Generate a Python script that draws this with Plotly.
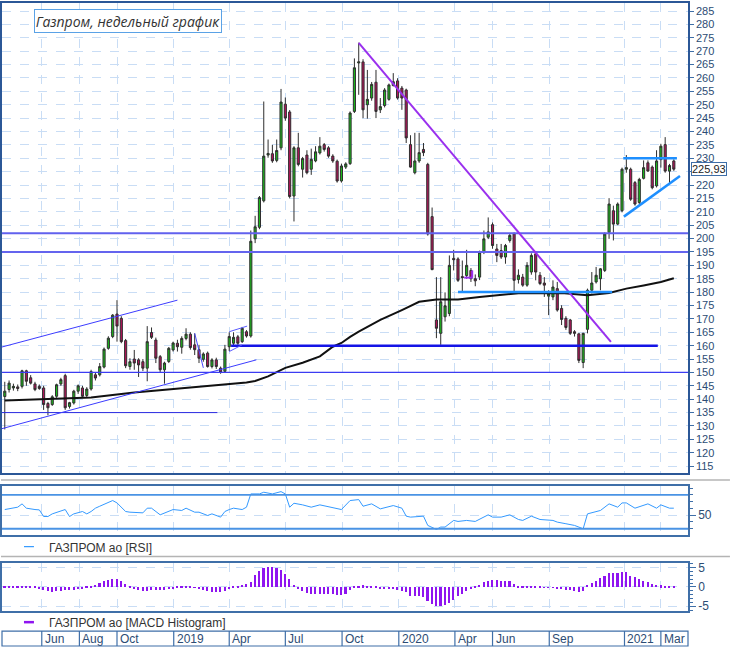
import pandas as pd
import plotly.graph_objects as go

# ---------------- data ----------------
start_week = "2018-04-02"
n_weeks = 156
dates = list(pd.date_range(start_week, periods=n_weeks, freq="7D"))

opens = [141,143.6,144.2,144.6,144.8,150.6,148,145.7,144.8,144.2,
         138.4,138,141.1,145.7,148.8,137.3,138.6,143,144.2,141.4,
         143.8,149.1,149.1,152,159,163.4,171.8,170.2,161.9,152.2,
         155,154.7,154,151.6,164.9,162.1,155.9,151,154.1,158.4,
         160.9,159.4,162.7,164.3,160.3,158.5,154.9,157.2,152.2,154.7,
         151.6,150.4,159.6,160.9,163.3,161.5,165.2,163.6,199.9,204.2,
         214.1,231.2,231.7,229.2,233.9,250.2,247.3,215.9,233.9,225.9,
         231.2,225.9,229,232,235.1,233.9,230.8,228.9,221.5,226.7,
         228,247.5,265.6,266,250,252.5,258.4,248.1,249.7,252,
         257.2,258.9,256.2,255.5,235.1,224.6,229,233.3,227.7,208.2,
         169.6,164.6,170.8,172,192.6,192.4,185.8,186.2,188.1,185,
         185.6,194.9,200.5,205.2,196.1,195.5,193.1,199.3,201.7,184.7,
         185.6,182.6,187.5,194.3,186.3,183.4,178.5,178.2,181.3,173.9,
         170.2,169.6,165.2,164.4,153.7,166.1,180.7,183.8,185,188.1,
         202.3,210.4,205.4,210.4,225.9,225.9,220.9,213.5,222.5,228.3,
         226.7,219.7,229.5,235.1,225.2,229]
closes = [143,146,144.8,144,150.6,146.7,146,143.6,144,138,
          136.8,140.9,145.4,147.3,136.8,138.7,143,145,141.1,143.8,
          150.3,147.9,152.2,158.7,162.8,171.4,167.3,161.5,152.5,154,
          153.5,152.8,151.6,161.5,163.1,155.3,151,153.5,159,161,
          159.6,162.7,164.3,159.3,158.5,155.3,156.9,152.2,154.7,152.2,
          150,158.7,163.4,163.1,160.9,166.5,163.6,199,204.4,215.3,
          230.8,231.8,229,232.9,251,245,215.7,233.9,227.7,229.9,
          224.6,229.6,232.4,234.5,233.3,230.8,229,221.5,227.1,227.9,
          246.9,263.8,266,248.1,252,257.6,247.5,249.3,255.5,257.4,
          258.6,252.5,252.5,237.6,226.7,229,232.1,232.1,201.7,188.4,
          166.5,176.4,174.9,190,192.1,184.4,185.4,190,185,184.2,
          194.9,199.9,202.5,197.4,193.7,193.1,197.4,201.2,184.4,186.3,
          182.6,190,193.7,187.5,183.2,182.6,179.5,181.9,173.3,169.8,
          166.8,164.6,164.6,154.5,164.6,180.7,183.4,186.3,188.7,201.7,
          212.9,205.4,212.9,225.9,226.5,214.7,212.9,222.1,226.5,225.2,
          219,229,234.5,225.2,227.3,225.93]
highs = [146.5,147,145.8,145.5,151,151,149,146.5,145.5,145,
         139,141.5,145.8,148,149.5,139,143.5,145.5,145,144.5,
         151,150,153.5,159.3,163.5,171.8,177,171,162.5,155.3,
         158.4,155.3,155,167.3,166.8,163,156.5,154,159.5,161.5,
         162.2,163.5,166.5,165,164.6,160.3,157.5,157.8,155.3,155.5,
         152.2,160.3,165,165,164,167,165.8,203,208.5,215.9,
         251.2,237,235,237,255.9,252.7,248,234.5,239.5,230.5,
         233,233.6,234.5,237.9,235.7,234.5,231.5,229.5,228,228.5,
         247.5,267.3,273.2,267,263,258.5,263,252.5,256.2,257.9,
         261.8,259.9,257,256,238.6,239.5,239.5,235.7,228.3,211.6,
         185.6,185.6,179.9,193.7,195.8,193,191.8,195.8,189,186.6,
         195.5,203,207.9,206,198,198,198,201.7,202.3,188.5,
         186.8,191.2,194.5,194.9,187.5,185.6,180.7,184.4,183.8,175.1,
         171,170,165.8,164.6,164.8,181.3,187.5,189.4,189,202.3,
         215.1,212.3,213.5,226.5,231.2,226.5,221.5,222.7,229.2,229.2,
         227.3,233,235.4,237.9,227.9,229.6]
lows = [128.7,142.5,143.2,143,144,145,145.5,143,143.5,136,
        134,137.5,140.5,145,136,136.5,138,142,140.5,140.8,
        143.2,147,148.5,151.5,158.5,162.8,161.5,160.9,151.6,151,
        151,148.3,150.5,146.7,162.5,153.5,150,145.8,153.5,157.8,
        157.8,157,162,158.5,156.5,153.5,154,151.8,151.5,151.3,
        149.5,150,158,160,160.3,161,163,163,198.3,203.5,
        213.5,230.2,228.3,228.5,233,244,215,206.4,227,222.8,
        224,223.8,228.5,231.4,232.5,230.2,228.3,220.9,220.9,226,
        227.5,246.9,253.7,245,244.8,251.5,245,246.9,249,251.5,
        256.8,251.9,248.1,235.7,226.5,224,228.3,230.8,201.1,188.2,
        162.8,160.3,169,171,188.1,183.8,180.1,185,183.8,182.2,
        184.5,194.2,199.8,196.2,191.2,192.4,190.6,198.5,180.1,183.2,
        182,182,186.5,184.4,182.6,178.2,171.4,177,172.7,167.7,
        165.9,164,163.4,153.5,151.6,164.6,179.5,183.2,180.7,187.5,
        199.9,199.3,205,209.8,224.6,214.1,212.3,212.9,222.1,225,
        218.4,219.1,226.5,224.6,220.3,225.3]

ma_week = [0,10,20,30,46,53,56,58,61,65,69,73,76,78,80,82,87,92,96,100,
           105,110,119,129,135,140,144,148,152,155]
ma_val = [139.5,140,140.6,142.5,144.8,145.8,146.2,146.8,148.5,151.7,153.6,156,
          159.6,161,163.3,165.2,169.6,173.3,176.4,177.2,177.2,178.2,179.6,179.7,
          178.8,179.7,181.3,182.5,183.8,185.2]

rsi_week = [0,2,3,4,5,7,8,9,10,11,13,14,15,16,18,19,20,21,22,24,
            25,26,28,29,32,33,34,36,37,39,41,42,44,45,47,48,50,51,52,53,
            55,56,57,59,60,62,64,65,66,67,69,71,73,75,78,80,82,83,84,85,
            87,90,92,93,94,97,98,100,101,102,104,105,107,109,112,113,115,117,119,120,
            122,124,127,128,130,132,134,135,138,140,142,143,144,146,149,151,152,154,155]
rsi_val = [58.4,60.4,61.9,66.8,60.4,58.4,57.9,48.1,48.1,52,55.5,58.4,48.1,52,55.5,52,55.5,60.4,63.3,68.2,
           71.7,68.2,55.5,54.5,53.5,60.4,60.4,50.6,53.5,58.4,57,60.4,54.5,54.5,49.6,52,47.2,55.5,58.4,60.4,
           58.4,61.9,81.5,81.5,84,81.5,84.9,81.5,61.9,67.7,65.3,61.9,65.3,62.8,58.4,71.7,73.1,63.3,65.3,66.8,
           59.4,64.3,60.4,48.6,47.2,48.6,34.9,29,32.5,32.5,42.3,40.8,42.3,40.8,50.6,47.2,47.2,50.6,43.7,42.3,
           48.6,43.7,42.3,39.8,37.4,34.9,30,52,57,66.8,61.9,68.2,68.2,60.4,66.8,60.4,65.3,60.4,60.4]
rsi_levels = [80, 30]

macd_hist = [0.1,0.2,0.3,0.3,0.4,0.3,0.2,0.1,
             -0.3,-0.7,-1.0,-1.1,-1.0,-0.9,-0.8,-0.8,-0.7,-0.5,-0.3,
             0.1,0.3,0.6,1.1,1.6,2.0,2.2,2.2,1.7,0.9,0.4,
             -0.3,-0.7,-0.9,-0.9,-0.8,-0.8,-0.7,-0.6,-0.4,-0.2,
             0.1,0.2,0.2,0.1,0.05,
             -0.3,-0.6,-0.9,-1.1,-1.2,-1.2,-1.0,-0.5,
             0.2,0.4,0.7,0.9,
             1.3,3.2,4.3,4.9,5.2,5.2,4.9,4.6,3.5,2.2,0.6,
             -0.5,-1.0,-1.5,-1.7,-1.8,-1.8,-1.8,-1.8,-1.8,-2.0,-2.0,-1.6,-0.6,
             0.1,0.3,0.5,0.4,
             0.3,0.1,-0.2,-0.4,-0.4,-0.5,
             -0.7,-0.9,-1.3,-2.2,-2.3,-2.3,-2.6,-3.5,-4.3,-4.9,-4.9,-4.6,-4.1,-3.2,-2.3,-1.7,-0.9,-0.3,
             0.2,0.6,1.3,1.7,1.8,1.8,1.7,1.6,1.6,0.9,0.4,0.3,0.3,0.4,0.2,0.1,
             0.05,-0.1,0.05,
             -0.2,-0.4,-0.6,-0.8,-0.9,-1.1,-0.9,
             0.6,1.0,1.7,2.3,3.0,3.6,3.7,3.7,3.9,3.9,
             3.0,2.6,2.2,1.6,1.3,0.8,0.6,0.5,0.4,0.3,0.1]

month_ticks = ["2018-06-01","2018-08-01","2018-10-01","2019-01-01","2019-04-01","2019-07-01",
               "2019-10-01","2020-01-01","2020-04-01","2020-06-01","2020-09-01","2021-01-01","2021-03-01"]
month_labels = ["Jun","Aug","Oct","2019","Apr","Jul","Oct","2020","Apr","Jun","Sep","2021","Mar"]
x_range = ["2018-03-28 12:00", "2021-04-14"]

price_ticks = list(range(115, 290, 5))
full_levels = [(202, "#6161ee", 2), (195, "#6464ee", 2), (150, "#3c3cf2", 1.2)]
# drawn trend lines: (x0, y0, x1, y1, colour, width)
trend_lines = [
    ("2019-04-04", 160, "2021-02-24", 160, "#1414e6", 2.5),
    (x_range[0], 135, "2019-03-13", 135, "#2a2ae0", 1),
    (x_range[0], 159.5, "2019-01-07", 177, "#3c3cff", 1),
    (x_range[0], 129, "2019-05-15", 154.7, "#3c3cff", 1),
    ("2019-04-01", 165.2, "2019-04-30", 167.3, "#5a5aff", 1),
    ("2019-04-01", 157.8, "2019-04-22", 160.3, "#5a5aff", 1),
    ("2019-02-04", 164.6, "2019-02-18", 151.7, "#4a4aff", 1),
    ("2019-10-28", 273.1, "2020-12-10", 161.4, "#9a30ee", 2),
    ("2020-04-16", 185.4, "2020-04-29", 185.4, "#9a30ee", 2),
    ("2020-04-29", 185.4, "2020-04-29", 188.1, "#9a30ee", 2),
    ("2020-04-06", 180, "2020-12-12", 180, "#1e8fff", 2.5),
    ("2020-12-30", 230, "2021-03-27", 230, "#1e8fff", 2.5),
    ("2020-12-31", 208.2, "2021-04-01", 223.4, "#1e8fff", 2.5),
]
last_price = 225.93
last_price_text = "225,93"
title_text = "Газпром, недельный график"
rsi_legend = "ГАЗПРОМ ао [RSI]"
macd_legend = "ГАЗПРОМ ао [MACD Histogram]"

# ---------------- figure ----------------
W, H = 730, 650
ML, MR = 1, 42
PW = W - ML - MR


def px_x(px):
    return (px - ML) / PW


def px_y(py):
    return 1 - py / H


AX_COL = "#3f6fa8"
FRAME_COL = "#2b5797"
GRID_COL = "#c9ddf5"
LAB_COL = "#2c4c74"
FONT = "Liberation Sans"

fig = go.Figure()
fig.add_trace(go.Candlestick(
    x=dates, open=opens, high=highs, low=lows, close=closes,
    increasing=dict(line=dict(color="#2e2e2e", width=1), fillcolor="#1cb81c"),
    decreasing=dict(line=dict(color="#2e2e2e", width=1), fillcolor="#b3145a"),
    whiskerwidth=0, xaxis="x", yaxis="y", showlegend=False, hoverinfo="skip"))
fig.add_trace(go.Scatter(
    x=[dates[k] for k in ma_week], y=ma_val, mode="lines",
    line=dict(color="#111111", width=2), xaxis="x", yaxis="y", showlegend=False, hoverinfo="skip"))
fig.add_trace(go.Scatter(
    x=[dates[k] for k in rsi_week], y=rsi_val, mode="lines",
    line=dict(color="#3399ff", width=1), xaxis="x2", yaxis="y2", showlegend=False, hoverinfo="skip"))
fig.add_trace(go.Bar(
    x=dates, y=macd_hist, marker=dict(color="#8f14f0", line=dict(width=0)),
    width=2.6 * 86400000, xaxis="x3", yaxis="y3", showlegend=False, hoverinfo="skip"))

xcommon = dict(type="date", range=x_range, tickmode="array", tickvals=month_ticks,
               showticklabels=False, ticks="", showgrid=True, gridcolor=GRID_COL,
               griddash="dash", gridwidth=1, showline=True, mirror=True, zeroline=False)

fig.update_layout(
    width=W, height=H, margin=dict(l=ML, r=MR, t=0, b=0),
    paper_bgcolor="white", plot_bgcolor="white",
    font=dict(family=FONT, size=11, color=LAB_COL),
    bargap=0,
    xaxis=dict(**xcommon, anchor="y", linecolor=FRAME_COL, linewidth=1.5,
               rangeslider=dict(visible=False), domain=[0, 1]),
    xaxis2=dict(**xcommon, anchor="y2", matches="x", linecolor=AX_COL, linewidth=1.5, domain=[0, 1]),
    xaxis3=dict(**xcommon, anchor="y3", matches="x", linecolor=AX_COL, linewidth=1.5, domain=[0, 1]),
    yaxis=dict(domain=[px_y(474), px_y(1)], range=[112.4, 288], side="right",
               tickmode="array", tickvals=price_ticks,
               ticktext=["" if abs(v - last_price) < 2.5 else str(v) for v in price_ticks],
               ticks="outside", ticklen=4,
               tickcolor=AX_COL, tickfont=dict(size=11, color=LAB_COL, family=FONT),
               showgrid=True, gridcolor=GRID_COL, griddash="dash",
               showline=True, linecolor=FRAME_COL, linewidth=1.5, mirror=True, zeroline=False,
               anchor="x"),
    yaxis2=dict(domain=[px_y(536), px_y(487)], range=[21.2, 93.2], side="right",
                tickmode="array", tickvals=[50], ticktext=["50"], ticks="outside", ticklen=6,
                tickcolor=AX_COL, tickfont=dict(size=12, color=LAB_COL, family=FONT),
                minor=dict(tickmode="array", tickvals=[30, 40, 60, 70, 80, 90], ticklen=3,
                           tickcolor=AX_COL, ticks="outside", showgrid=False),
                showgrid=True, gridcolor=GRID_COL, griddash="dash",
                showline=True, linecolor=AX_COL, linewidth=1.5, mirror=True, zeroline=False,
                anchor="x2"),
    yaxis3=dict(domain=[px_y(613), px_y(564)], range=[-6.3, 6.3], side="right",
                tickmode="array", tickvals=[-5, 0, 5], ticktext=["-5", "0", "5"],
                ticks="outside", ticklen=6, tickcolor=AX_COL,
                tickfont=dict(size=12, color=LAB_COL, family=FONT),
                minor=dict(tickmode="linear", tick0=0, dtick=1, ticklen=3,
                           tickcolor=AX_COL, ticks="outside", showgrid=False),
                showgrid=True, gridcolor=GRID_COL, griddash="dash",
                showline=True, linecolor=AX_COL, linewidth=1.5, mirror=True, zeroline=False,
                anchor="x3"),
)

shapes = []
for lvl, col, wd in full_levels:
    shapes.append(dict(type="line", xref="x domain", yref="y", x0=0, x1=1, y0=lvl, y1=lvl,
                       line=dict(color=col, width=wd)))
for x0, y0, x1, y1, col, wd in trend_lines:
    shapes.append(dict(type="line", xref="x", yref="y", x0=x0, y0=y0, x1=x1, y1=y1,
                       line=dict(color=col, width=wd)))
for lvl in rsi_levels:
    shapes.append(dict(type="line", xref="x2 domain", yref="y2", x0=0, x1=1, y0=lvl, y1=lvl,
                       line=dict(color="#4a93e4", width=1.8)))
# panel separators
for py in (481, 558):
    shapes.append(dict(type="line", xref="paper", yref="paper", x0=px_x(0), x1=px_x(W),
                       y0=px_y(py), y1=px_y(py), line=dict(color="#b4b4b4", width=1.5)))
# date band
band_top, band_bot = px_y(633), px_y(648)
shapes.append(dict(type="rect", xref="paper", yref="paper", x0=0, x1=1, y0=band_bot, y1=band_top,
                   line=dict(color=AX_COL, width=1.2), fillcolor="rgba(0,0,0,0)"))
for d in month_ticks:
    shapes.append(dict(type="line", xref="x", yref="paper", x0=d, x1=d, y0=band_bot, y1=band_top,
                       line=dict(color=AX_COL, width=1.2)))
# legend samples
shapes.append(dict(type="line", xref="paper", yref="paper", x0=px_x(23), x1=px_x(33),
                   y0=px_y(548), y1=px_y(548), line=dict(color="#3399ff", width=1.2)))
shapes.append(dict(type="line", xref="paper", yref="paper", x0=px_x(23), x1=px_x(33),
                   y0=px_y(624), y1=px_y(624), line=dict(color="#8f14f0", width=2.5)))

annotations = []
for d, lab in zip(month_ticks, month_labels):
    annotations.append(dict(xref="x", yref="paper", x=d, y=px_y(641), text=lab, showarrow=False,
                            xanchor="left", yanchor="middle", xshift=1,
                            font=dict(size=12, color=LAB_COL, family=FONT)))
annotations.append(dict(xref="paper", yref="paper", x=px_x(46), y=px_y(549), text=rsi_legend,
                        showarrow=False, xanchor="left", yanchor="middle",
                        font=dict(size=12, color="#333333", family=FONT)))
annotations.append(dict(xref="paper", yref="paper", x=px_x(46), y=px_y(625), text=macd_legend,
                        showarrow=False, xanchor="left", yanchor="middle",
                        font=dict(size=12, color="#333333", family=FONT)))
annotations.append(dict(xref="paper", yref="y", x=1, y=last_price, text=last_price_text,
                        showarrow=False, xanchor="left", yanchor="middle", xshift=3,
                        bgcolor="white", bordercolor=AX_COL, borderwidth=1, borderpad=0,
                        font=dict(size=11, color="#222222", family=FONT)))
annotations.append(dict(xref="paper", yref="paper", x=px_x(33), y=px_y(7),
                        text="<i>" + title_text + "</i>", showarrow=False,
                        xanchor="left", yanchor="top", width=186, height=22, align="center",
                        bgcolor="white", bordercolor="#5aa2e6", borderwidth=1, borderpad=0,
                        font=dict(size=14, color="#333333", family="Open Sans")))

fig.update_layout(shapes=shapes, annotations=annotations)
fig.write_html("out.html", config=dict(displayModeBar=False),
               post_script="document.body.style.margin='0px';document.body.style.overflow='hidden';")
